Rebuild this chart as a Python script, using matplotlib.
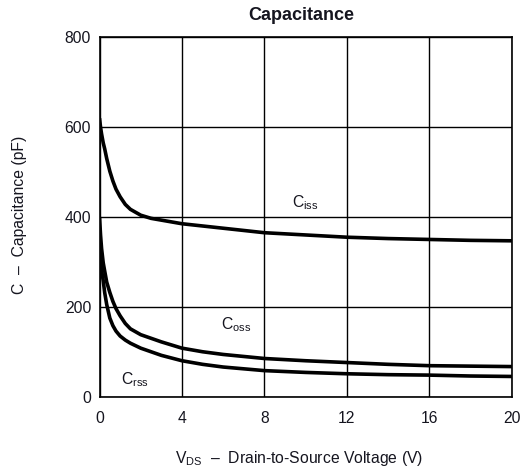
import matplotlib
matplotlib.use("Agg")
import matplotlib.pyplot as plt

# Data
vds = [0, 0.05, 0.1, 0.18, 0.25, 0.35, 0.5, 0.65, 0.8, 1, 1.25, 1.5, 2, 2.5, 3, 4, 5, 6, 8, 10, 12, 14, 16, 18, 20]
ciss = [620, 600, 585, 565, 552, 530, 502, 480, 462, 445, 428, 417, 404, 397, 393, 385, 380, 375, 365, 360, 355, 352, 350, 348, 347]
coss = [400, 360, 330, 298, 280, 255, 232, 212, 196, 180, 163, 151, 138, 130, 122, 108, 100, 94, 85, 80, 76, 72, 69, 68, 67]
crss = [350, 310, 282, 258, 232, 205, 175, 158, 146, 135, 126, 119, 108, 100, 92, 80, 72, 66, 58, 54, 51, 49, 48, 46, 45]

xticks = [0, 4, 8, 12, 16, 20]
yticks = [0, 200, 400, 600, 800]

plt.rcParams['font.family'] = ['Liberation Sans', 'DejaVu Sans']
plt.rcParams['mathtext.fontset'] = 'custom'
plt.rcParams['mathtext.rm'] = 'Liberation Sans'
plt.rcParams['mathtext.it'] = 'Liberation Sans'

txtc = '#15151f'
fs = 11.3
fig = plt.figure(figsize=(5.31, 4.70), dpi=100)
ax = fig.add_axes([0.1874, 0.156, 0.7766, 0.7646])

ax.set_xlim(0, 20)
ax.set_ylim(0, 800)
ax.set_xticks(xticks)
ax.set_yticks(yticks)
ax.grid(True, color='black', linewidth=1.0)
ax.set_axisbelow(True)
for s in ax.spines.values():
    s.set_linewidth(1.2)
ax.tick_params(length=0, labelsize=fs, colors=txtc)
ax.tick_params(axis='x', pad=10)
ax.tick_params(axis='y', pad=6)

for ys in (ciss, coss, crss):
    ax.plot(vds, ys, color='black', linewidth=2.6, solid_capstyle='butt', zorder=3)

box = dict(facecolor='white', edgecolor='none', pad=1.0)
ax.text(9.97, 432, r'C$_{\mathrm{iss}}$', fontsize=fs, color=txtc, ha='center', va='center', bbox=box, zorder=4)
ax.text(6.63, 160, r'C$_{\mathrm{oss}}$', fontsize=fs, color=txtc, ha='center', va='center', bbox=box, zorder=4)
ax.text(1.72, 37, r'C$_{\mathrm{rss}}$', fontsize=fs, color=txtc, ha='center', va='center', bbox=box, zorder=4)

fig.text(301/531, 1 - 16/470, 'Capacitance', fontsize=13, fontweight='bold', color=txtc, ha='center', va='center')
fig.text(299/531, 1 - 459/470, r'V$_{\mathrm{DS}}$  –  Drain-to-Source Voltage (V)', fontsize=fs, color=txtc, ha='center', va='center')
fig.text(20/531, 1 - 215/470, 'C  –  Capacitance (pF)', fontsize=fs, color=txtc, ha='center', va='center', rotation=90)

fig.savefig('out.png', dpi=100, facecolor='white')
